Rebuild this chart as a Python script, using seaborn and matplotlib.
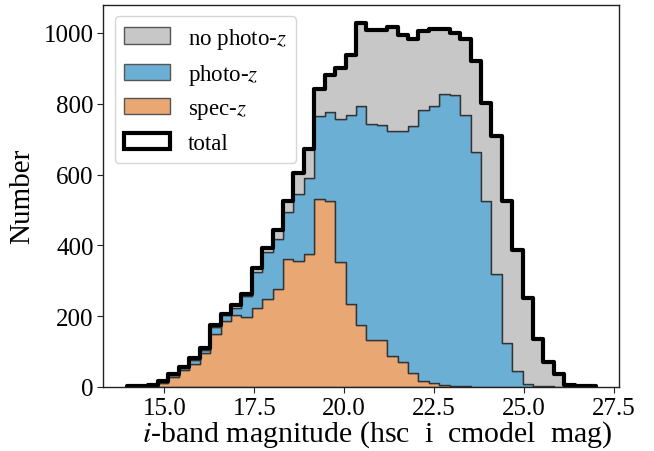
import numpy as np
import pandas as pd
import matplotlib
matplotlib.use("Agg")
import matplotlib.pyplot as plt
from matplotlib.patches import Patch
import seaborn as sns

# ---- data (counts per magnitude bin) ----
bin_start = 13.95
bin_width = 0.29
n_bins = 45

spec_z = [0, 0, 2, 10, 28, 47, 64, 95, 150, 186,
          204, 197, 222, 249, 276, 362, 355, 374, 532, 525,
          354, 234, 176, 131, 131, 86, 69, 38, 17, 11,
          6, 2, 1, 0, 0, 0, 0, 0, 0, 0,
          0, 0, 0, 0, 0]
photo_z = [0, 1, 1, 4, 4, 6, 13, 8, 18, 16,
           19, 59, 103, 131, 143, 133, 191, 215, 232, 251,
           403, 535, 619, 612, 610, 637, 654, 698, 764, 784,
           822, 822, 768, 663, 524, 318, 123, 44, 8, 2,
           1, 0, 0, 0, 0]
no_photo_z = [1, 1, 2, 3, 3, 4, 5, 8, 7, 4,
              9, 7, 10, 13, 25, 31, 58, 84, 78, 104,
              143, 168, 233, 266, 267, 295, 271, 246, 225, 215,
              182, 177, 215, 258, 278, 390, 401, 343, 243, 134,
              69, 37, 5, 2, 1]

categories = ["no photo-$z$", "photo-$z$", "spec-$z$"]
colors = {"no photo-$z$": "#c7c7c7", "photo-$z$": "#6cafd5", "spec-$z$": "#e9a774"}
x_ticks = [15.0, 17.5, 20.0, 22.5, 25.0, 27.5]
x_tick_labels = ["15.0", "17.5", "20.0", "22.5", "25.0", "27.5"]
y_ticks = [0, 200, 400, 600, 800, 1000]

edges = [float(e) for e in bin_start + bin_width * np.arange(n_bins + 1)]
centers = [0.5 * (a + b) for a, b in zip(edges[:-1], edges[1:])]

df = pd.concat([
    pd.DataFrame({"mag": centers, "count": no_photo_z, "sample": categories[0]}),
    pd.DataFrame({"mag": centers, "count": photo_z, "sample": categories[1]}),
    pd.DataFrame({"mag": centers, "count": spec_z, "sample": categories[2]}),
], ignore_index=True)
total = np.array(spec_z) + np.array(photo_z) + np.array(no_photo_z)
df_total = pd.DataFrame({"mag": centers, "count": total})

sns.set_style("ticks")
plt.rcParams["font.family"] = ["Liberation Serif", "DejaVu Serif"]
plt.rcParams["mathtext.fontset"] = "stix"
plt.rcParams["text.color"] = "black"
plt.rcParams["axes.labelcolor"] = "black"
plt.rcParams["xtick.color"] = "black"
plt.rcParams["ytick.color"] = "black"

fig = plt.figure(figsize=(6.54, 4.52), dpi=100)
ax = fig.add_axes([0.158, 0.142, 0.7885, 0.845])

sns.histplot(data=df, x="mag", weights="count", hue="sample", hue_order=categories,
             bins=edges, multiple="stack", element="step", palette=colors,
             alpha=1, edgecolor="#333333", linewidth=1.0, legend=False, ax=ax)
sns.histplot(data=df_total, x="mag", weights="count", bins=edges, element="step",
             fill=False, color="black", linewidth=3, ax=ax)

for s in ax.spines.values():
    s.set_visible(True)
    s.set_color("#222222")
    s.set_linewidth(1.0)

ax.set_xticks(x_ticks)
ax.set_xticklabels(x_tick_labels)
ax.set_yticks(y_ticks)
ax.tick_params(labelsize=18, length=4, color="#222222", pad=3)
ax.set_xlabel("$i$-band magnitude (hsc  i  cmodel  mag)", fontsize=21.5,
              labelpad=0, x=0.531)
ax.set_ylabel("Number", fontsize=21, labelpad=6)

handles = [Patch(facecolor=colors[c], edgecolor="#555555", linewidth=1.0, label=c)
           for c in categories]
handles.append(Patch(facecolor="white", edgecolor="black", linewidth=3, label="total"))
ax.legend(handles=handles, loc="upper left", fontsize=16.5, frameon=True)

fig.savefig("out.png", dpi=100)
